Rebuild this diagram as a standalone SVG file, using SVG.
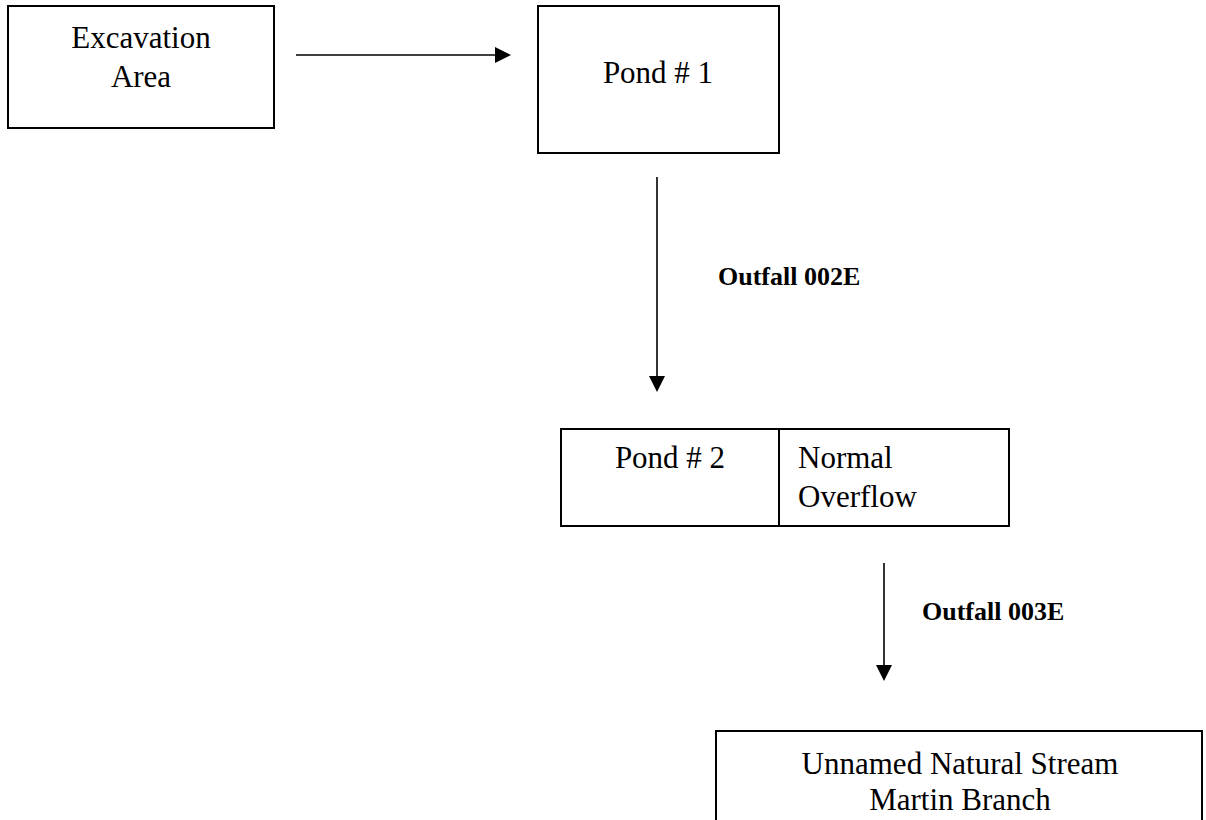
<svg xmlns="http://www.w3.org/2000/svg" width="1206" height="820" viewBox="0 0 1206 820">
  <style>
    .box { fill: #ffffff; stroke: #000000; stroke-width: 2; }
    .t { font-family: "Liberation Serif", "Times New Roman", serif; font-size: 31px; fill: #000000; }
    .c { text-anchor: middle; }
    .lbl { font-family: "Liberation Serif", "Times New Roman", serif; font-size: 26px; font-weight: bold; fill: #000000; }
    .edge { stroke: #000000; stroke-width: 1.6; fill: none; marker-end: url(#ah); }
  </style>
  <defs>
    <marker id="ah" markerUnits="userSpaceOnUse" markerWidth="16" markerHeight="16" viewBox="0 0 16 16" refX="8" refY="8" orient="auto">
      <path d="M0,0 L16,8 L0,16 Z" fill="#000000"/>
    </marker>
  </defs>
  <rect width="1206" height="820" fill="#ffffff"/>

  <g id="excavation">
    <rect class="box" x="8" y="6" width="266" height="122"/>
    <text class="t c" x="141" y="48">Excavation</text>
    <text class="t c" x="141" y="87">Area</text>
  </g>

  <g id="pond1">
    <rect class="box" x="538" y="6" width="241" height="147"/>
    <text class="t c" x="658" y="83">Pond # 1</text>
  </g>

  <g id="pond2">
    <rect class="box" x="561" y="429" width="448" height="97"/>
    <line x1="779" y1="429" x2="779" y2="526" stroke="#000000" stroke-width="2"/>
    <text class="t c" x="670" y="468">Pond # 2</text>
    <text class="t" x="798" y="468">Normal</text>
    <text class="t" x="798" y="507">Overflow</text>
  </g>

  <g id="stream">
    <rect class="box" x="716" y="731" width="486" height="110"/>
    <text class="t c" x="960" y="774">Unnamed Natural Stream</text>
    <text class="t c" x="960" y="810">Martin Branch</text>
  </g>

  <g id="connectors">
    <line class="edge" x1="296" y1="55" x2="503" y2="55"/>
    <line class="edge" x1="657" y1="177" x2="657" y2="384"/>
    <text class="lbl" x="718" y="285">Outfall 002E</text>
    <line class="edge" x1="884" y1="563" x2="884" y2="673"/>
    <text class="lbl" x="922" y="620">Outfall 003E</text>
  </g>
</svg>
